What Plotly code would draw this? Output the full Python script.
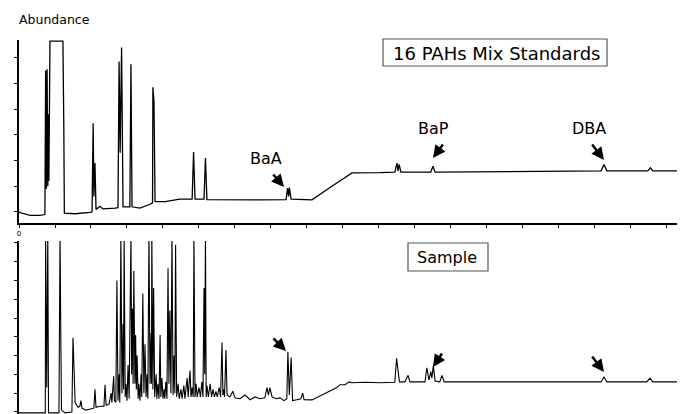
import plotly.graph_objects as go

# ---------------- data (time in tick units, abundance in tick units) ----------------
std_time = [0.00, 0.08, 0.31, 0.58, 0.72, 0.74, 0.76, 0.78, 0.80, 0.82,
            0.83, 0.86, 1.22, 1.225, 1.245, 1.26, 1.56, 1.97, 2.03, 2.06,
            2.08, 2.11, 2.14, 2.25, 2.33, 2.67, 2.75, 2.78, 2.81, 2.85,
            2.89, 3.08, 3.11, 3.14, 3.36, 3.64, 3.71, 3.72, 3.75, 3.78,
            4.06, 4.47, 4.81, 4.85, 4.89, 5.14, 5.18, 5.22, 5.86, 6.69,
            7.42, 7.46, 7.49, 7.51, 7.56, 8.14, 8.64, 9.25, 10.03, 10.44,
            10.50, 10.53, 10.56, 10.61, 11.44, 11.50, 11.56, 13.92, 16.17, 16.25,
            16.33, 17.47, 17.54, 17.61, 18.28]
std_abund = [0.00, -0.05, -0.13, -0.13, -0.10, 5.50, 0.90, 5.55, 1.00, 3.80,
             1.20, 6.65, 6.65, 3.30, 3.30, -0.05, -0.07, -0.02, 0.00, 3.45,
             0.60, 1.90, 0.10, 0.22, 0.12, 0.15, 0.17, 5.85, 2.30, 6.40,
             0.20, 0.20, 5.75, 0.20, 0.15, 0.30, 0.35, 4.85, 4.30, 0.40,
             0.40, 0.50, 0.50, 2.33, 0.50, 0.50, 2.10, 0.48, 0.47, 0.47,
             0.48, 0.93, 0.60, 0.95, 0.50, 0.47, 0.95, 1.52, 1.53, 1.55,
             1.90, 1.60, 1.85, 1.55, 1.55, 1.78, 1.55, 1.58, 1.60, 1.85,
             1.60, 1.60, 1.72, 1.60, 1.60]

smp_time = [0.00, 0.73, 0.74, 0.75, 0.76, 0.77, 0.80, 0.82, 1.11, 1.14,
            1.16, 1.18, 1.28, 1.47, 1.50, 1.53, 1.56, 1.64, 1.69, 1.72,
            1.75, 1.86, 1.97, 2.08, 2.11, 2.14, 2.25, 2.36, 2.39, 2.42,
            2.50, 2.56, 2.58, 2.63, 2.65, 2.69, 2.72, 2.75, 2.78, 2.80,
            2.83, 2.86, 2.89, 2.905, 2.92, 2.95, 2.97, 3.00, 3.03, 3.06,
            3.11, 3.13, 3.15, 3.17, 3.19, 3.22, 3.24, 3.26, 3.28, 3.31,
            3.33, 3.36, 3.39, 3.41, 3.44, 3.47, 3.50, 3.53, 3.56, 3.58,
            3.61, 3.64, 3.67, 3.68, 3.69, 3.72, 3.74, 3.77, 3.81, 3.83,
            3.86, 3.89, 3.92, 3.94, 3.97, 4.00, 4.03, 4.05, 4.08, 4.11,
            4.14, 4.165, 4.19, 4.22, 4.25, 4.28, 4.31, 4.33, 4.35, 4.38,
            4.42, 4.45, 4.50, 4.53, 4.58, 4.61, 4.67, 4.70, 4.75, 4.78,
            4.81, 4.84, 4.86, 4.89, 4.92, 4.95, 5.00, 5.04, 5.08, 5.11,
            5.14, 5.16, 5.18, 5.20, 5.22, 5.26, 5.31, 5.35, 5.39, 5.43,
            5.47, 5.51, 5.56, 5.60, 5.64, 5.665, 5.68, 5.71, 5.75, 5.78,
            5.86, 5.94, 6.00, 6.14, 6.28, 6.42, 6.56, 6.69, 6.83, 6.89,
            6.93, 6.97, 7.03, 7.14, 7.25, 7.36, 7.44, 7.47, 7.51, 7.56,
            7.60, 7.72, 7.83, 7.88, 7.92, 8.14, 8.36, 8.64, 8.83, 8.92,
            9.06, 9.17, 9.25, 9.61, 10.03, 10.44, 10.49, 10.53, 10.57, 10.72,
            10.81, 10.86, 11.28, 11.33, 11.39, 11.44, 11.47, 11.51, 11.56, 11.69,
            11.75, 11.81, 13.92, 16.17, 16.25, 16.33, 17.44, 17.53, 17.61, 18.28]
smp_abund = [-0.05, -0.05, 9.5, 1.3, 5.3, 1.3, 9.5, -0.05, -0.05, 9.5,
             4.5, 0.1, -0.05, 0.0, 3.95, 1.8, 0.5, 0.25, 0.3, 0.6,
             0.2, 0.1, 0.15, 0.2, 1.2, 0.25, 0.3, 0.3, 1.45, 0.35,
             0.4, 1.0, 0.5, 1.9, 0.6, 0.5, 7.0, 0.6, 2.0, 0.5,
             9.5, 1.0, 4.7, 1.2, 9.5, 0.8, 1.5, 0.6, 2.5, 0.7,
             9.5, 2.0, 5.5, 1.5, 7.5, 1.5, 4.1, 1.2, 3.0, 0.7,
             1.5, 0.6, 2.0, 0.8, 6.3, 1.0, 3.6, 0.8, 2.0, 0.7,
             9.5, 1.5, 4.2, 1.5, 9.5, 1.2, 6.6, 0.8, 2.0, 0.7,
             1.5, 0.7, 4.1, 0.8, 1.8, 0.7, 1.2, 0.7, 1.6, 0.7,
             7.65, 1.5, 5.4, 1.0, 9.5, 0.9, 3.0, 1.0, 8.9, 0.8,
             1.5, 0.7, 1.2, 0.7, 1.4, 0.7, 1.8, 0.8, 2.2, 0.8,
             1.3, 0.8, 9.5, 0.8, 1.5, 0.8, 1.3, 0.8, 1.6, 0.8,
             6.6, 2.0, 9.5, 0.8, 1.4, 0.8, 1.5, 0.8, 1.2, 0.8,
             1.1, 0.8, 1.3, 0.8, 3.7, 0.9, 1.2, 0.8, 3.3, 0.9,
             0.8, 1.1, 0.75, 0.7, 0.9, 0.65, 0.8, 0.7, 0.75, 1.3,
             0.9, 1.3, 0.8, 0.7, 0.75, 0.6, 0.7, 3.2, 0.9, 2.9,
             0.6, 0.65, 0.7, 1.0, 0.65, 0.64, 0.85, 1.1, 1.3, 1.45,
             1.45, 1.6, 1.55, 1.58, 1.55, 1.58, 2.85, 2.2, 1.6, 1.6,
             1.95, 1.6, 1.6, 2.35, 1.7, 2.15, 1.8, 2.45, 1.65, 1.6,
             1.95, 1.6, 1.6, 1.6, 1.86, 1.6, 1.6, 1.8, 1.6, 1.6]

x_ticks = list(range(19))
x_ticktext = ["0"] + [""] * 18
std_yticks = list(range(7))
smp_yticks = list(range(10))

peak_labels = ["BaA", "BaP", "DBA"]
panel_titles = ["16 PAHs Mix Standards", "Sample"]
y_title = "Abundance"

assert len(std_time) == len(std_abund)
assert len(smp_time) == len(smp_abund)

# ---------------- layout geometry ----------------
# The page body has an 8px margin, so the figure is drawn 8px right/down of the
# window corner. All "page" pixel positions below are in window coordinates.
OFF = 8
WIN_W, WIN_H = 686, 414
W, H = WIN_W - OFF, WIN_H - OFF
PLOT_LEFT, PLOT_RIGHT, PLOT_TOP, PLOT_BOTTOM = 19, 677, 40, 414   # window px
L, R, T, B = PLOT_LEFT - OFF, WIN_W - PLOT_RIGHT, PLOT_TOP - OFF, WIN_H - PLOT_BOTTOM
PW, PH = W - L - R, H - T - B


def px(xp):
    return (xp - PLOT_LEFT) / PW


def py(yp):
    return (PLOT_BOTTOM - yp) / PH


FONT = "DejaVu Sans"

fig = go.Figure()
fig.add_trace(go.Scatter(x=std_time, y=std_abund, mode="lines",
                         line=dict(color="black", width=1.3),
                         xaxis="x", yaxis="y", showlegend=False, hoverinfo="skip"))
fig.add_trace(go.Scatter(x=smp_time, y=smp_abund, mode="lines",
                         line=dict(color="black", width=1.1),
                         xaxis="x2", yaxis="y2", showlegend=False, hoverinfo="skip"))

axis_common = dict(showgrid=False, zeroline=False, showline=True, linecolor="black",
                   linewidth=1.5, ticks="outside", ticklen=3, tickwidth=1, tickcolor="black")

annotations = [
    dict(text=y_title, x=px(17), y=py(19), xref="paper", yref="paper",
         xanchor="left", yanchor="middle", showarrow=False,
         font=dict(family=FONT, size=12.5, color="black")),
    dict(text=panel_titles[0], x=px(496), y=py(53), xref="paper", yref="paper",
         xanchor="center", yanchor="middle", showarrow=False,
         font=dict(family=FONT, size=18, color="black")),
    dict(text=panel_titles[1], x=px(447), y=py(257), xref="paper", yref="paper",
         xanchor="center", yanchor="middle", showarrow=False,
         font=dict(family=FONT, size=16, color="black")),
    dict(text=peak_labels[0], x=px(266), y=py(158), xref="paper", yref="paper",
         xanchor="center", yanchor="middle", showarrow=False,
         font=dict(family=FONT, size=16, color="black")),
    dict(text=peak_labels[1], x=px(433), y=py(128), xref="paper", yref="paper",
         xanchor="center", yanchor="middle", showarrow=False,
         font=dict(family=FONT, size=16, color="black")),
    dict(text=peak_labels[2], x=px(589), y=py(128), xref="paper", yref="paper",
         xanchor="center", yanchor="middle", showarrow=False,
         font=dict(family=FONT, size=16, color="black")),
]

# arrows: (head_x, head_y, tail_x, tail_y) in window pixels
arrows = [(284, 187, 272, 173), (433, 158, 444, 143), (604, 160, 591, 143),
          (286, 351, 272, 337), (433, 367, 443, 352), (604, 372, 591, 355)]
for hx, hy, tx, ty in arrows:
    annotations.append(dict(x=px(hx), y=py(hy), xref="paper", yref="paper",
                            ax=tx - hx, ay=ty - hy, text="", showarrow=True,
                            arrowhead=2, arrowsize=1, arrowwidth=2.5, arrowcolor="black"))

shapes = [
    dict(type="rect", xref="paper", yref="paper", x0=px(383), x1=px(607), y0=py(66), y1=py(39),
         line=dict(color="#555555", width=1.2), fillcolor="white"),
    dict(type="rect", xref="paper", yref="paper", x0=px(408), x1=px(488), y0=py(271), y1=py(243),
         line=dict(color="#555555", width=1.2), fillcolor="white"),
]

fig.update_layout(
    width=W, height=H,
    margin=dict(l=L, r=R, t=T, b=B),
    paper_bgcolor="white", plot_bgcolor="white",
    xaxis=dict(domain=[0, 1], anchor="y", range=[0, 18.28], tickvals=x_ticks,
               ticktext=x_ticktext, tickfont=dict(family=FONT, size=7, color="black"),
               **axis_common),
    yaxis=dict(domain=[py(223), 1.0], anchor="x", range=[-0.43, 6.69], tickvals=std_yticks,
               showticklabels=False, **axis_common),
    xaxis2=dict(domain=[0, 1], anchor="y2", range=[0, 18.28], visible=False),
    yaxis2=dict(domain=[0, py(241)], anchor="x2", range=[-0.11, 9.1], tickvals=smp_yticks,
                showticklabels=False, **axis_common),
    annotations=annotations,
    shapes=shapes,
)

fig.write_html("out.html")
